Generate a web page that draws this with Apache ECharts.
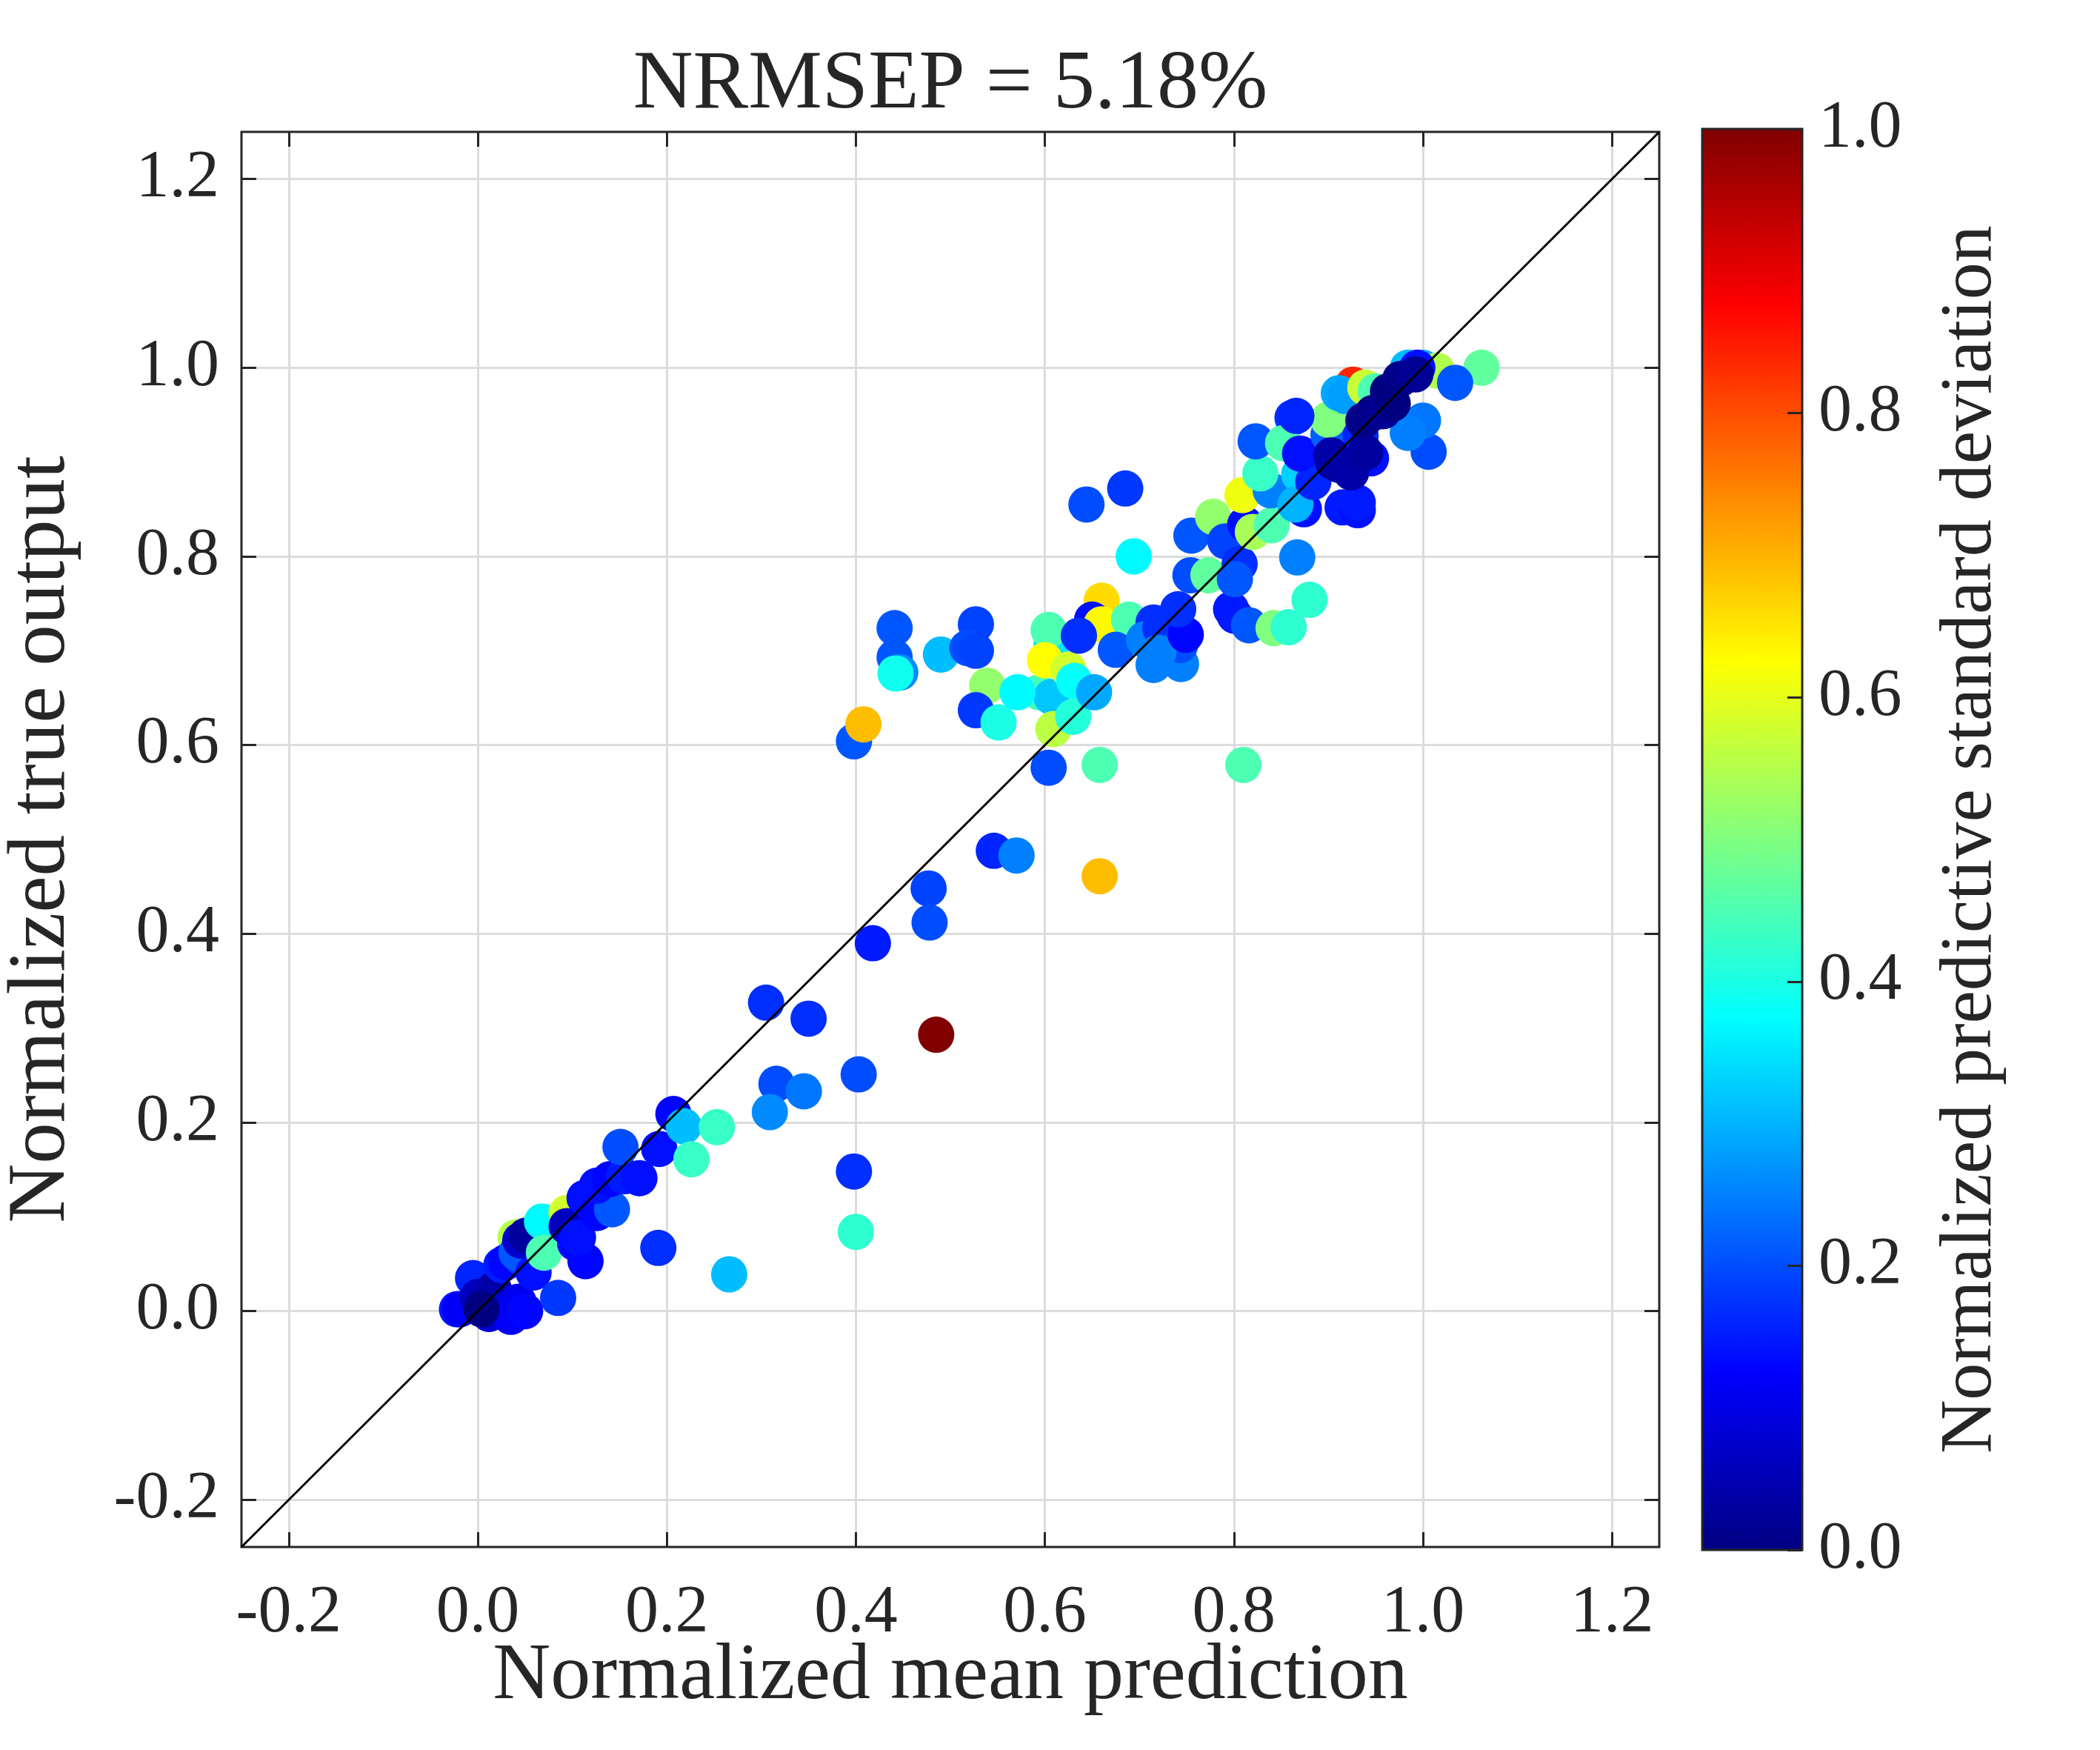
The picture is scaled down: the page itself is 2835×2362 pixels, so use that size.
<!DOCTYPE html>
<html>
<head>
<meta charset="utf-8">
<script src="https://cdn.jsdelivr.net/npm/echarts@6/dist/echarts.min.js"></script>
<style>
  html, body { margin: 0; padding: 0; background: #fff; }
  #main { width: 2835px; height: 2362px; }
</style>
</head>
<body>
<div id="main"></div>
<script>
// 数据：横轴为归一化平均预测，纵轴为归一化真实输出，颜色为归一化预测标准差
var predX = [
  -0.022, -0.019, -0.005, 0.000, 0.012, 0.010, 0.017, 0.022, 0.033, 0.035,
  0.043, 0.050, 0.025, 0.040, 0.030, 0.046, 0.041, 0.059, 0.045, 0.051,
  0.004, 0.068, 0.070, 0.085, 0.094, 0.094, 0.103, 0.114, 0.106, 0.124,
  0.113, 0.126, 0.142, 0.126, 0.140, 0.155, 0.171, 0.151, 0.192, 0.207,
  0.218, 0.226, 0.253, 0.191, 0.266,
  0.305, 0.350, 0.316, 0.345, 0.309, 0.403, 0.398, 0.400, 0.418, 0.477,
  0.478, 0.485, 0.546, 0.570, 0.658,
  0.398, 0.408, 0.441, 0.441, 0.447, 0.442, 0.490, 0.527, 0.518, 0.527,
  0.539, 0.527, 0.551, 0.594, 0.607, 0.571, 0.607, 0.604, 0.600, 0.625,
  0.631, 0.609, 0.630, 0.652, 0.604, 0.658, 0.810,
  0.660, 0.650, 0.660, 0.636, 0.689, 0.694, 0.675, 0.715, 0.705, 0.715,
  0.744, 0.722, 0.743, 0.720, 0.749, 0.741, 0.644, 0.685, 0.754, 0.773,
  0.755, 0.778, 0.797, 0.801, 0.816, 0.842, 0.858, 0.880, 0.867, 0.791,
  0.806, 0.801, 0.812, 0.809, 0.820, 0.840, 0.839, 0.828, 0.874, 0.877,
  0.869, 0.865, 0.884, 0.823, 0.862, 0.852, 0.870, 0.900, 0.900, 0.926,
  0.911, 0.918, 0.915, 0.931, 0.931, 0.934, 0.945, 0.939, 0.950, 0.984,
  1.000, 1.015, 1.062, 1.034, 1.006, 1.000, 0.984, 0.994, 0.866,
  0.905, 0.911, 0.924, 0.903, 0.939, 0.963, 0.976, 0.992, 0.947, 0.937,
  0.958, 0.968
];
var trueY = [
  0.002, 0.002, 0.035, 0.015, -0.003, 0.012, 0.023, 0.002, 0.000, -0.006,
  0.010, 0.000, 0.049, 0.078, 0.052, 0.057, 0.062, 0.041, 0.075, 0.080,
  0.002, 0.095, 0.062, 0.014, 0.104, 0.090, 0.072, 0.053, 0.078, 0.127,
  0.120, 0.104, 0.108, 0.133, 0.140, 0.143, 0.141, 0.174, 0.172, 0.209,
  0.196, 0.161, 0.195, 0.067, 0.039,
  0.327, 0.310, 0.241, 0.233, 0.211, 0.251, 0.148, 0.084, 0.390, 0.448,
  0.412, 0.293, 0.488, 0.483, 0.461,
  0.604, 0.622, 0.724, 0.693, 0.677, 0.676, 0.696, 0.728, 0.703, 0.700,
  0.663, 0.637, 0.624, 0.656, 0.651, 0.656, 0.706, 0.722, 0.690, 0.680,
  0.668, 0.617, 0.630, 0.656, 0.576, 0.579, 0.579,
  0.753, 0.733, 0.728, 0.716, 0.733, 0.800, 0.701, 0.730, 0.712, 0.685,
  0.686, 0.724, 0.706, 0.698, 0.717, 0.744, 0.855, 0.872, 0.780, 0.780,
  0.822, 0.842, 0.744, 0.737, 0.727, 0.724, 0.725, 0.754, 0.799, 0.816,
  0.792, 0.776, 0.834, 0.865, 0.826, 0.833, 0.870, 0.888, 0.850, 0.882,
  0.887, 0.855, 0.879, 0.922, 0.947, 0.920, 0.909, 0.929, 0.945, 0.982,
  0.973, 0.970, 0.852, 0.849, 0.857, 0.928, 0.904, 0.979, 0.975, 1.000,
  1.000, 0.997, 1.000, 0.984, 0.911, 0.944, 0.931, 1.000, 0.949,
  0.900, 0.897, 0.889, 0.907, 0.910, 0.975, 0.988, 0.993, 0.952, 0.944,
  0.954, 0.962
];
var stdNorm = [
  0.15, 0.12, 0.16, 0.06, 0.08, 0.05, 0.04, 0.07, 0.10, 0.12,
  0.11, 0.13, 0.15, 0.55, 0.13, 0.18, 0.21, 0.14, 0.08, 0.03,
  0.00, 0.37, 0.45, 0.18, 0.58, 0.06, 0.13, 0.13, 0.14, 0.36,
  0.14, 0.13, 0.21, 0.14, 0.13, 0.15, 0.14, 0.20, 0.14, 0.13,
  0.31, 0.43, 0.43, 0.17, 0.31,
  0.17, 0.17, 0.20, 0.24, 0.26, 0.20, 0.17, 0.42, 0.15, 0.19,
  0.20, 1.00, 0.16, 0.25, 0.69,
  0.21, 0.69, 0.21, 0.21, 0.26, 0.39, 0.31, 0.19, 0.20, 0.19,
  0.52, 0.18, 0.40, 0.44, 0.32, 0.37, 0.35, 0.45, 0.625, 0.58,
  0.38, 0.56, 0.41, 0.29, 0.20, 0.45, 0.45,
  0.66, 0.14, 0.63, 0.17, 0.45, 0.37, 0.21, 0.17, 0.25, 0.25,
  0.25, 0.17, 0.20, 0.25, 0.13, 0.17, 0.20, 0.18, 0.20, 0.47,
  0.21, 0.52, 0.15, 0.15, 0.21, 0.50, 0.42, 0.42, 0.25, 0.19,
  0.17, 0.21, 0.14, 0.61, 0.54, 0.45, 0.25, 0.43, 0.14, 0.20,
  0.33, 0.30, 0.16, 0.21, 0.17, 0.45, 0.14, 0.22, 0.50, 0.84,
  0.29, 0.28, 0.15, 0.14, 0.15, 0.16, 0.14, 0.57, 0.45, 0.31,
  0.30, 0.55, 0.47, 0.21, 0.20, 0.24, 0.25, 0.14, 0.16,
  0.02, 0.03, 0.04, 0.04, 0.03, 0.00, 0.01, 0.02, 0.00, 0.01,
  0.02, 0.00
];

var axisMin = -0.25, axisMax = 1.25;
var tickVals = [-0.2, 0, 0.2, 0.4, 0.6, 0.8, 1.0, 1.2];
var cbTicks = [0, 0.2, 0.4, 0.6, 0.8, 1.0];
var diagEnds = [axisMin, axisMax];
var jet = ['#000080', '#0000ff', '#0080ff', '#00ffff', '#80ff80', '#ffff00', '#ff8000', '#ff0000', '#800000'];

var scatterData = [];
for (var i = 0; i < predX.length; i++) {
  scatterData.push([predX[i], trueY[i], stdNorm[i]]);
}
var diagData = diagEnds.map(function (v) { return [v, v]; });

// 色条渐变（自下而上）
var jetGradient = {
  type: 'linear', x: 0, y: 1, x2: 0, y2: 0,
  colorStops: jet.map(function (c, k) { return { offset: k / (jet.length - 1), color: c }; })
};

var FONT = 'Liberation Serif';
var INK = '#262626';
var fmt = function (v) { return (Math.abs(v) < 1e-9 ? 0 : v).toFixed(1); };

// 主图四周的刻度（外框由 grid 边框画）
function boxAxis(pos, opts) {
  var ax = {
    type: 'value', min: axisMin, max: axisMax, position: pos,
    axisLine: { show: false, onZero: false },
    axisTick: { show: true, inside: true, length: 20, customValues: tickVals, lineStyle: { color: INK, width: 3 } },
    axisLabel: { show: false, customValues: tickVals },
    splitLine: { show: false }
  };
  return Object.assign(ax, opts || {});
}

var myChart = echarts.init(document.getElementById('main'));
var option = {
  backgroundColor: '#fff',
  animation: false,
  graphic: [{
    type: 'text', x: 1283, y: 116,
    style: { text: 'NRMSEP = 5.18%', font: '112px "Liberation Serif"', fill: INK, textAlign: 'center', textVerticalAlign: 'middle' }
  }],
  grid: [
    { left: 326, top: 178, width: 1914, height: 1910, outerBoundsMode: 'none',
      show: true, z: 3, backgroundColor: 'transparent', borderColor: INK, borderWidth: 3 },
    // 色条
    { left: 2298, top: 174, width: 135, height: 1918, outerBoundsMode: 'none', show: true,
      backgroundColor: jetGradient, borderColor: INK, borderWidth: 3 }
  ],
  xAxis: [
    boxAxis('bottom', {
      gridIndex: 0,
      name: 'Normalized mean prediction', nameLocation: 'middle', nameGap: 122, nameMoveOverlap: false,
      nameTextStyle: { fontFamily: FONT, fontSize: 108, color: INK },
      axisLabel: { show: true, customValues: tickVals, formatter: fmt, margin: 45, fontFamily: FONT, fontSize: 90, color: INK },
      splitLine: { show: true, lineStyle: { color: '#dcdcdc', width: 3 } }
    }),
    boxAxis('top', { gridIndex: 0 }),
    { type: 'value', gridIndex: 1, min: 0, max: 1, show: false }
  ],
  yAxis: [
    boxAxis('left', {
      gridIndex: 0,
      name: 'Normalized true output', nameLocation: 'middle', nameGap: 214, nameRotate: 90, nameMoveOverlap: false,
      nameTextStyle: { fontFamily: FONT, fontSize: 111, color: INK },
      axisLabel: { show: true, customValues: tickVals, formatter: fmt, margin: 30, fontFamily: FONT, fontSize: 90, color: INK },
      splitLine: { show: true, lineStyle: { color: '#dcdcdc', width: 3 } }
    }),
    boxAxis('right', { gridIndex: 0 }),
    { type: 'value', gridIndex: 1, position: 'right', min: 0, max: 1, interval: 0.2, z: 11,
      name: 'Normalized predictive standard deviation', nameLocation: 'middle', nameGap: 178, nameRotate: 90, nameMoveOverlap: false,
      nameTextStyle: { fontFamily: FONT, fontSize: 100, color: INK },
      axisLine: { show: false, onZero: false },
      axisTick: { show: true, inside: true, length: 20, lineStyle: { color: INK, width: 3 } },
      axisLabel: { show: true, formatter: fmt, margin: 22, fontFamily: FONT, fontSize: 90, color: INK },
      splitLine: { show: false } }
  ],
  visualMap: {
    show: false,
    type: 'continuous', min: 0, max: 1, dimension: 2, seriesIndex: 0,
    inRange: { color: jet }
  },
  series: [
    {
      type: 'scatter', xAxisIndex: 0, yAxisIndex: 0,
      symbolSize: 49, data: scatterData,
      itemStyle: { opacity: 1 }
    },
    {
      type: 'line', xAxisIndex: 0, yAxisIndex: 0, z: 5,
      data: diagData, symbol: 'none',
      lineStyle: { color: '#000', width: 3 }
    }
  ]
};
myChart.setOption(option, true);
</script>
</body>
</html>
